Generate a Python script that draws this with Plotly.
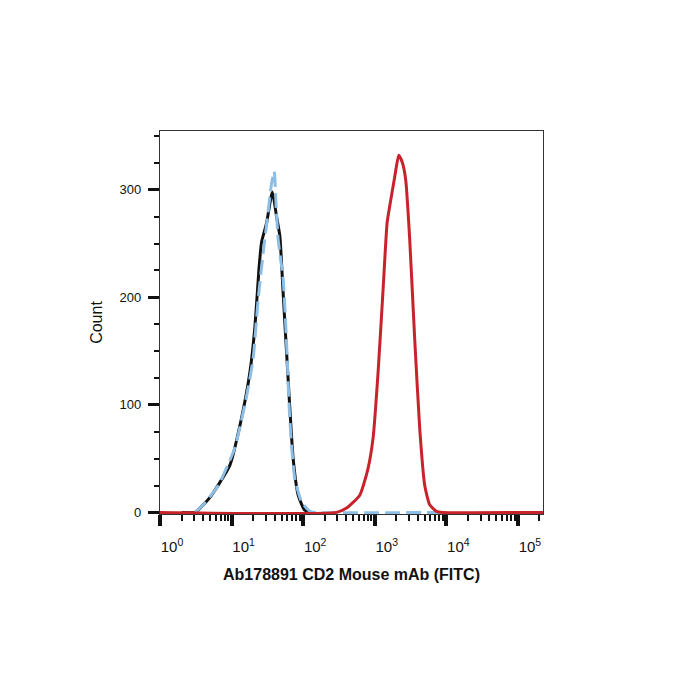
import plotly.graph_objects as go

# ---- data (fluorescence intensity, count) ----
ctrl_x = [2.01, 3.08, 4.99, 9.48, 13.8, 18.0, 21.2, 24.1, 26.2, 30.8, 37.1, 42.5,
          47.2, 52.5, 58.6, 65.2, 72.4, 85.1, 105, 131]
ctrl_y = [0, 0, 14, 44, 88, 130, 173, 226, 251, 269, 298, 275,
          257, 204, 149, 96, 50, 16, 2, 0]

iso_x = [3.08, 4.02, 6.51, 11.1, 16.2, 20.0, 23.5, 27.6, 31.4, 36.2, 39.4, 41.8,
         44.7, 52.5, 56.8, 60.5, 63.7, 68.8, 76.5, 94.9, 124, 146, 9000]
iso_y = [0, 7, 25, 60, 108, 143, 198, 241, 272, 306, 317, 286,
         254, 217, 177, 136, 98, 62, 31, 10, 1, 0, 0]

cd2_x = [1, 292, 403, 618, 806, 947, 1112, 1306, 1486, 1620, 1901, 2161, 2434,
         2706, 3076, 3614, 4246, 4989, 5853, 7258, 8974, 224000]
cd2_y = [0, 0, 4, 16, 41, 69, 130, 207, 269, 285, 312, 332, 325,
         309, 254, 161, 78, 25, 7, 1, 0, 0]

x_tickvals = [1, 10, 100, 1000, 10000, 100000]
x_ticktext = ["10<sup>0</sup>", "10<sup>1</sup>", "10<sup>2</sup>",
              "10<sup>3</sup>", "10<sup>4</sup>", "10<sup>5</sup>"]
y_tickvals = [0, 100, 200, 300]

FONT = "Arial, 'Liberation Sans', sans-serif"

fig = go.Figure()
fig.add_trace(go.Scatter(x=ctrl_x, y=ctrl_y, mode="lines",
                         line=dict(color="#111111", width=3, shape="spline", smoothing=0.5),
                         showlegend=False))
fig.add_trace(go.Scatter(x=iso_x, y=iso_y, mode="lines",
                         line=dict(color="#8CBEE6", width=3, dash="15px,6px",
                                   shape="spline", smoothing=0.5),
                         showlegend=False))
fig.add_trace(go.Scatter(x=cd2_x, y=cd2_y, mode="lines",
                         line=dict(color="#C8232B", width=3, shape="spline", smoothing=0.5),
                         showlegend=False))

fig.update_layout(
    width=700, height=700,
    margin=dict(l=160, r=157, t=131, b=186),
    paper_bgcolor="white", plot_bgcolor="white",
    font=dict(family=FONT, color="#111111"),
)
fig.update_xaxes(
    type="log", range=[0, 5.35],
    tickmode="array", tickvals=x_tickvals, ticktext=x_ticktext,
    ticks="outside", ticklen=11, tickwidth=3.5, tickcolor="#111111",
    ticklabelshift=12, ticklabelstandoff=8,
    tickfont=dict(size=15, family=FONT, color="#111111"),
    minor=dict(ticks="outside", ticklen=6, tickwidth=2, tickcolor="#111111", dtick="D1"),
    showgrid=False, zeroline=False,
    showline=True, mirror=True, linecolor="#333333", linewidth=1.2,
    title=dict(text="<b>Ab178891 CD2 Mouse mAb (FITC)</b>",
               font=dict(size=16, family=FONT, color="#111111"), standoff=14),
)
fig.update_yaxes(
    range=[-1.5, 354.6],
    tickmode="array", tickvals=y_tickvals,
    ticks="outside", ticklen=11, tickwidth=3, tickcolor="#111111",
    ticklabelstandoff=4,
    tickfont=dict(size=13, family=FONT, color="#111111"),
    minor=dict(ticks="outside", ticklen=5, tickwidth=2, tickcolor="#111111",
               tickmode="linear", tick0=0, dtick=25),
    showgrid=False, zeroline=False,
    showline=True, mirror=True, linecolor="#333333", linewidth=1.2,
    title=dict(text="Count", font=dict(size=16, family=FONT, color="#111111"), standoff=12),
)

fig.write_html("out.html")
